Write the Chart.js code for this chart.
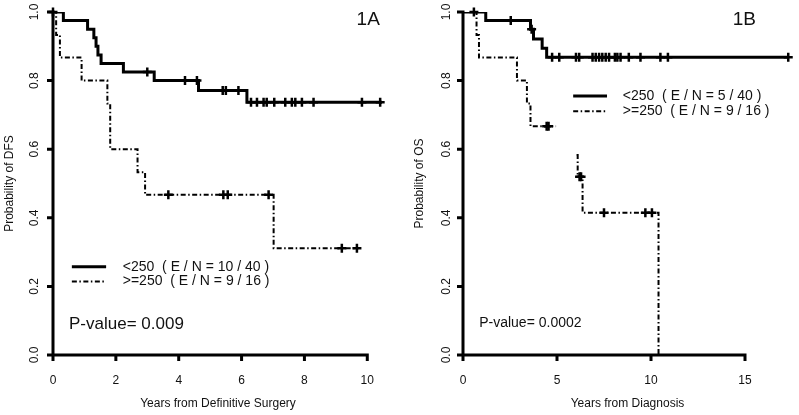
<!DOCTYPE html>
<html>
<head>
<meta charset="utf-8">
<script src="https://cdn.jsdelivr.net/npm/chart.js@4.4.1/dist/chart.umd.min.js"></script>
<style>
    body { margin: 0; background: #fff; }
    #wrap { position: relative; width: 799px; height: 415px; }
    canvas { position: absolute; top: 0; }
</style>
</head>
<body>
<div id="wrap">
    <canvas id="dfs-chart" width="400" height="415" style="left:0"></canvas>
    <canvas id="os-chart" width="399" height="415" style="left:400px"></canvas>
</div>
<script>
// Panel 1A - disease free survival
const dfsLowTime = [0, 0.33, 1.10, 1.30, 1.37, 1.43, 1.53, 2.24, 3.22, 4.63, 6.17, 10.47];
const dfsLowSurv = [1.0, 0.975, 0.95, 0.925, 0.9, 0.875, 0.85, 0.825, 0.80, 0.771, 0.737, 0.737];
const dfsLowCensTime = [0, 3.0, 4.2, 4.58, 5.40, 5.50, 5.9, 6.30, 6.49, 6.70, 6.80, 7.04, 7.39, 7.60, 7.71, 7.92, 8.29, 9.83, 10.41];
const dfsLowCensSurv = [1.0, 0.825, 0.80, 0.80, 0.771, 0.771, 0.771, 0.737, 0.737, 0.737, 0.737, 0.737, 0.737, 0.737, 0.737, 0.737, 0.737, 0.737, 0.737];
const dfsHighTime = [0, 0.10, 0.22, 0.91, 1.73, 1.82, 2.69, 2.93, 7.02, 9.72];
const dfsHighSurv = [1.0, 0.933, 0.867, 0.80, 0.733, 0.60, 0.533, 0.467, 0.311, 0.311];
const dfsHighCensTime = [3.67, 5.42, 5.56, 6.86, 9.19, 9.67];
const dfsHighCensSurv = [0.467, 0.467, 0.467, 0.467, 0.311, 0.311];
const dfsTicks = [0, 2, 4, 6, 8, 10];

// Panel 1B - overall survival
const osLowTime = [0, 1.21, 3.59, 3.75, 4.21, 4.45, 17.3];
const osLowSurv = [1.0, 0.975, 0.95, 0.921, 0.894, 0.868, 0.868];
const osLowCensTime = [0.58, 2.54, 3.65, 4.74, 5.12, 6.01, 6.18, 6.89, 7.06, 7.24, 7.41, 7.59, 7.77, 8.08, 8.21, 8.38, 8.82, 9.44, 10.5, 10.9, 17.3];
const osLowCensSurv = [1.0, 0.975, 0.95, 0.868, 0.868, 0.868, 0.868, 0.868, 0.868, 0.868, 0.868, 0.868, 0.868, 0.868, 0.868, 0.868, 0.868, 0.868, 0.868, 0.868, 0.868];
const osHighTime = [0, 0.72, 0.85, 2.87, 3.40, 3.59, 4.95, 5.5, 6.04, 6.10, 6.36, 10.4];
const osHighSurv = [1.0, 0.933, 0.867, 0.80, 0.733, 0.667, 0.667, null, 0.583, 0.52, 0.415, 0.0];
const osHighCensTime = [4.45, 4.55, 6.2, 6.28, 7.5, 9.7, 10.05];
const osHighCensSurv = [0.667, 0.667, 0.52, 0.52, 0.415, 0.415, 0.415];
const osTicks = [0, 5, 10, 15];

const yTicks = [0, 0.2, 0.4, 0.6, 0.8, 1.0];
const groupLabels = ['<250', '>=250'];

const FONT = '"Liberation Sans", Arial, sans-serif';
const DASH_DOT = [5, 2.5, 1.5, 2.5];

function toPoints(xs, ys) {
    return xs.map((x, i) => ({ x: x, y: ys[i] }));
}

// axes: lines, tick marks and the rotated y labels, placed from the scales
const kmAxes = {
    id: 'kmAxes',
    afterDraw(chart, args, opts) {
        const ctx = chart.ctx;
        const xs = chart.scales.x;
        const ys = chart.scales.y;
        const left = xs.getPixelForValue(0);
        const bottom = ys.getPixelForValue(0);
        ctx.save();
        ctx.strokeStyle = '#000';
        ctx.lineWidth = 3;
        ctx.lineCap = 'butt';
        ctx.beginPath();
        ctx.moveTo(left, ys.getPixelForValue(1) - 1.5);
        ctx.lineTo(left, bottom);
        ctx.moveTo(left - 6, bottom);
        ctx.lineTo(xs.getPixelForValue(opts.axisEnd) + 1.5, bottom);
        xs.ticks.forEach(t => {
            const px = xs.getPixelForValue(t.value);
            ctx.moveTo(px, bottom);
            ctx.lineTo(px, bottom + 6);
        });
        ys.ticks.forEach(t => {
            const py = ys.getPixelForValue(t.value);
            ctx.moveTo(left, py);
            ctx.lineTo(left - 6, py);
        });
        ctx.stroke();

        ctx.fillStyle = '#111';
        ctx.font = '12px ' + FONT;
        ctx.textAlign = 'center';
        ctx.textBaseline = 'middle';
        ys.ticks.forEach(t => {
            ctx.save();
            ctx.translate(left - opts.yLabelGap, ys.getPixelForValue(t.value));
            ctx.rotate(-Math.PI / 2);
            ctx.fillText(t.value.toFixed(1), 0, 0);
            ctx.restore();
        });
        ctx.restore();
    }
};

// legend, p-value and panel tag
const kmDecor = {
    id: 'kmDecor',
    afterDraw(chart, args, opts) {
        const ctx = chart.ctx;
        const xs = chart.scales.x;
        const ys = chart.scales.y;
        ctx.save();
        ctx.strokeStyle = '#000';
        opts.legend.forEach(item => {
            const y = ys.getPixelForValue(item.y);
            ctx.lineWidth = item.width;
            ctx.setLineDash(item.dash);
            ctx.beginPath();
            ctx.moveTo(xs.getPixelForValue(opts.legendLine[0]), y);
            ctx.lineTo(xs.getPixelForValue(opts.legendLine[1]), y);
            ctx.stroke();
            ctx.setLineDash([]);
            ctx.fillStyle = '#111';
            ctx.font = opts.legendFont + 'px ' + FONT;
            ctx.textAlign = 'left';
            ctx.textBaseline = 'middle';
            ctx.fillText(item.text, xs.getPixelForValue(opts.legendTextX), y);
        });

        ctx.font = opts.pFont + 'px ' + FONT;
        ctx.fillText(opts.pText, xs.getPixelForValue(opts.pPos[0]), ys.getPixelForValue(opts.pPos[1]));

        ctx.font = '19px ' + FONT;
        ctx.textAlign = 'right';
        ctx.fillText(opts.tag, xs.getPixelForValue(opts.tagPos[0]), ys.getPixelForValue(opts.tagPos[1]));
        ctx.restore();
    }
};

function createKmChart(canvasId, cfg) {
    const ctx = document.getElementById(canvasId).getContext('2d');
    return new Chart(ctx, {
        type: 'line',
        data: {
            datasets: [
                {
                    data: toPoints(cfg.lowTime, cfg.lowSurv),
                    borderColor: '#000', borderWidth: 3, stepped: 'before',
                    pointRadius: 0, spanGaps: false
                },
                {
                    data: toPoints(cfg.highTime, cfg.highSurv),
                    borderColor: '#000', borderWidth: 2, borderDash: DASH_DOT, stepped: 'before',
                    pointRadius: 0, spanGaps: false
                },
                {
                    data: toPoints(cfg.lowCensTime, cfg.lowCensSurv),
                    showLine: false, pointStyle: 'cross', pointRadius: 4.5,
                    pointBorderWidth: 2.5, pointBorderColor: '#000', clip: false
                },
                {
                    data: toPoints(cfg.highCensTime, cfg.highCensSurv),
                    showLine: false, pointStyle: 'cross', pointRadius: 4.5,
                    pointBorderWidth: 2.5, pointBorderColor: '#000', clip: false
                }
            ]
        },
        options: {
            responsive: false,
            animation: false,
            layout: { padding: { left: 0, top: 12, right: cfg.padRight, bottom: 0 } },
            plugins: {
                legend: { display: false },
                tooltip: { enabled: false },
                kmAxes: { axisEnd: cfg.decor.axisEnd, yLabelGap: cfg.yLabelGap },
                kmDecor: cfg.decor
            },
            scales: {
                x: {
                    type: 'linear',
                    min: 0,
                    max: cfg.xMax,
                    afterBuildTicks: s => { s.ticks = cfg.xTicks.map(v => ({ value: v })); },
                    afterFit: s => { s.height = 60; },
                    border: { display: false },
                    grid: { display: false },
                    ticks: { padding: 10.5, color: '#111', font: { family: FONT, size: 12 }, maxRotation: 0 },
                    title: { display: true, text: cfg.xTitle, color: '#111', font: { family: FONT, size: 12 }, padding: { top: 4.5, bottom: 4.5 } }
                },
                y: {
                    type: 'linear',
                    min: 0,
                    max: 1,
                    afterBuildTicks: s => { s.ticks = yTicks.map(v => ({ value: v })); },
                    afterFit: s => { s.width = cfg.yWidth; },
                    border: { display: false },
                    grid: { display: false },
                    ticks: { display: false },
                    title: { display: true, text: cfg.yTitle, color: '#111', font: { family: FONT, size: 12 }, padding: { top: cfg.yTitlePad, bottom: cfg.yTitlePad } }
                }
            }
        },
        plugins: [kmAxes, kmDecor]
    });
}

createKmChart('dfs-chart', {
    lowTime: dfsLowTime, lowSurv: dfsLowSurv,
    highTime: dfsHighTime, highSurv: dfsHighSurv,
    lowCensTime: dfsLowCensTime, lowCensSurv: dfsLowCensSurv,
    highCensTime: dfsHighCensTime, highCensSurv: dfsHighCensSurv,
    xTicks: dfsTicks, xMax: 10.5, padRight: 17, yWidth: 53, yLabelGap: 18, yTitlePad: 2.8,
    xTitle: 'Years from Definitive Surgery', yTitle: 'Probability of DFS',
    decor: {
        axisEnd: 10,
        legend: [
            { y: 0.2575, width: 3, dash: [], text: groupLabels[0] + '  ( E / N = 10 / 40 )' },
            { y: 0.214, width: 2, dash: DASH_DOT, text: groupLabels[1] + '  ( E / N = 9 / 16 )' }
        ],
        legendLine: [0.6, 1.69], legendTextX: 2.22, legendFont: 14,
        pText: 'P-value= 0.009', pPos: [0.51, 0.09], pFont: 17,
        tag: '1A', tagPos: [10.4, 0.977]
    }
});

createKmChart('os-chart', {
    lowTime: osLowTime, lowSurv: osLowSurv,
    highTime: osHighTime, highSurv: osHighSurv,
    lowCensTime: osLowCensTime, lowCensSurv: osLowCensSurv,
    highCensTime: osHighCensTime, highCensSurv: osHighCensSurv,
    xTicks: osTicks, xMax: 17.5, padRight: 5, yWidth: 63, yLabelGap: 16.3, yTitlePad: 12.8,
    xTitle: 'Years from Diagnosis', yTitle: 'Probability of OS',
    decor: {
        axisEnd: 15,
        legend: [
            { y: 0.755, width: 3, dash: [], text: groupLabels[0] + '  ( E / N = 5 / 40 )' },
            { y: 0.711, width: 2, dash: DASH_DOT, text: groupLabels[1] + '  ( E / N = 9 / 16 )' }
        ],
        legendLine: [5.86, 7.66], legendTextX: 8.5, legendFont: 14,
        pText: 'P-value= 0.0002', pPos: [0.86, 0.093], pFont: 14,
        tag: '1B', tagPos: [15.58, 0.977]
    }
});
</script>
</body>
</html>
